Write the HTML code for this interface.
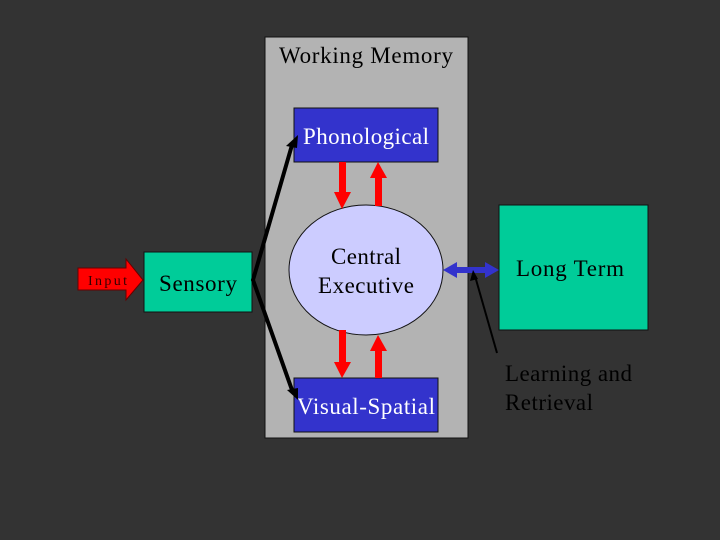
<!DOCTYPE html>
<html><head><style>
body{margin:0;background:#333;}
svg{display:block;font-family:"Liberation Serif",serif;}
</style></head><body>
<svg width="720" height="540" viewBox="0 0 720 540">
<rect width="720" height="540" fill="#333"/>
<rect x="265" y="37" width="203" height="401" fill="#b3b3b3" stroke="#111" stroke-width="1"/>
<text x="279" y="63" font-size="23" textLength="174" fill="#000">Working Memory</text>
<rect x="294" y="108" width="144" height="54" fill="#3333cc" stroke="#111"/>
<text x="303" y="144" font-size="23" textLength="126" fill="#fff">Phonological</text>
<rect x="294" y="378" width="144" height="54" fill="#3333cc" stroke="#111"/>
<text x="297" y="414" font-size="23" textLength="138" fill="#fff">Visual-Spatial</text>
<ellipse cx="366" cy="270" rx="77" ry="65" fill="#ccccff" stroke="#111"/>
<text x="331" y="264" font-size="23" textLength="70">Central</text>
<text x="318" y="293" font-size="23" textLength="96">Executive</text>
<rect x="144" y="252" width="108" height="60" fill="#00cc99" stroke="#111"/>
<text x="159" y="291" font-size="23" textLength="78">Sensory</text>
<rect x="499" y="205" width="149" height="125" fill="#00cc99" stroke="#111"/>
<text x="516" y="276" font-size="23" textLength="108">Long Term</text>
<polygon points="78,268 126,268 126,259 143,280 126,300 126,290 78,290" fill="#f00" stroke="#600"/>
<text x="88" y="285" font-size="14" textLength="39" fill="#300">Input</text>
<g fill="#f00">
<rect x="339" y="162" width="7" height="32"/><polygon points="334,192 351,192 342,209"/>
<rect x="375" y="176" width="7" height="30"/><polygon points="370,178 387,178 378,162"/>
<rect x="339" y="330" width="7" height="34"/><polygon points="334,362 351,362 342,378"/>
<rect x="375" y="349" width="7" height="29"/><polygon points="370,351 387,351 378,335"/>
</g>
<g stroke="#000" stroke-width="4" fill="none">
<polyline points="292,145 253,280 292,390"/>
</g>
<polygon points="298,135 286,146 297,148" fill="#000"/>
<polygon points="298,400 287,390 298,388" fill="#000"/>
<rect x="455" y="267" width="32" height="6" fill="#3333cc"/>
<polygon points="443,270 457,262 457,278" fill="#3333cc"/>
<polygon points="499,270 485,262 485,278" fill="#3333cc"/>
<line x1="497" y1="353" x2="475" y2="276" stroke="#000" stroke-width="2"/>
<polygon points="473,270 470,281 478,279" fill="#000"/>
<text x="505" y="381" font-size="23" textLength="127">Learning and</text>
<text x="505" y="410" font-size="23" textLength="88">Retrieval</text>
</svg>
</body></html>
